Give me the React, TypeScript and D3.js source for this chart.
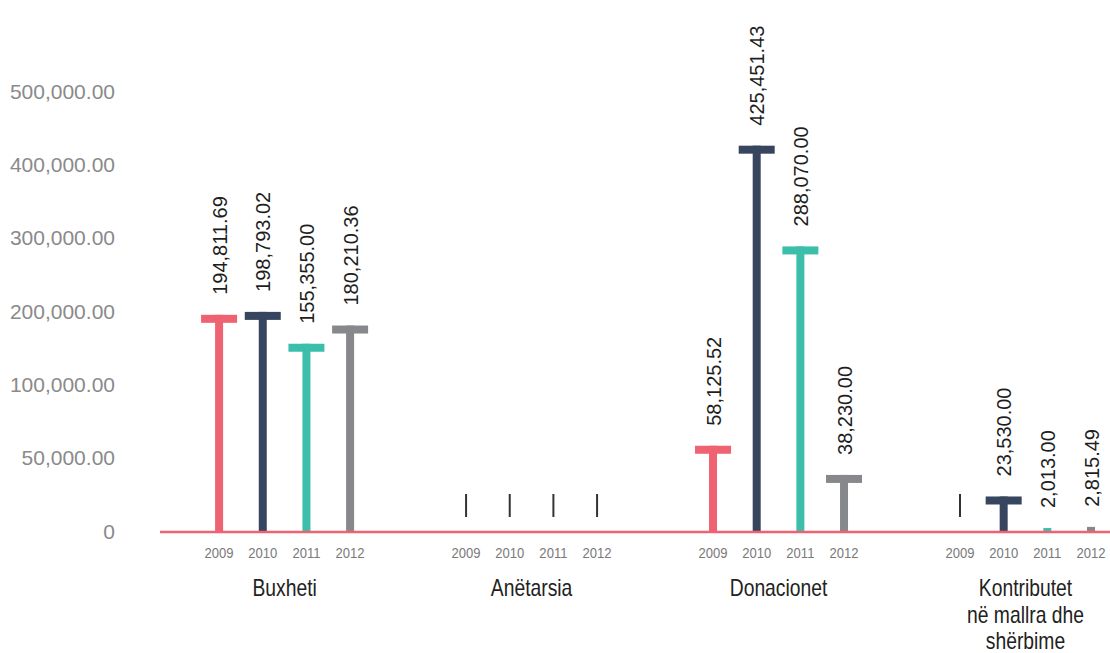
import React from "react";
import * as d3 from "d3";

// Revenue sources by year
const categories = ["Buxheti", "Anëtarsia", "Donacionet", "Kontributet\nnë mallra dhe\nshërbime"];
const years = ["2009", "2010", "2011", "2012"];
const values2009: (number | null)[] = [194811.69, null, 58125.52, null];
const values2010: (number | null)[] = [198793.02, null, 425451.43, 23530.0];
const values2011: (number | null)[] = [155355.0, null, 288070.0, 2013.0];
const values2012: (number | null)[] = [180210.36, null, 38230.0, 2815.49];
const seriesValues = [values2009, values2010, values2011, values2012];
const yTicks = [0, 50000, 100000, 200000, 300000, 400000, 500000];

const colors = ["#ef6271", "#37455f", "#3cbfaa", "#87888c"];

const W = 1110;
const H = 653;
const FONT = "'Liberation Sans', Arial, Helvetica, sans-serif";

export default function App() {
  // Broken (piecewise) value axis: ticks are evenly spaced
  const y0 = 531;
  const step = 73.33;
  const y = d3
    .scaleLinear()
    .domain(yTicks)
    .range(yTicks.map((_, i) => y0 - i * step));

  const xGroup = d3.scalePoint<string>().domain(categories).range([284.6, 1025.5]);
  const xYear = d3.scalePoint<string>().domain(years).range([-65.5, 65.5]);

  const fmtValue = d3.format(",.2f");
  const fmtTick = (v: number) => (v === 0 ? "0" : d3.format(",.2f")(v));

  const stemW = 8;
  const capW = 36;
  const capH = 8;

  const marks: React.ReactNode[] = [];
  const labels: React.ReactNode[] = [];

  categories.forEach((cat, ci) => {
    years.forEach((yr, yi) => {
      const v = seriesValues[yi][ci];
      const cx = (xGroup(cat) ?? 0) + (xYear(yr) ?? 0);
      const key = `${ci}-${yi}`;
      if (v === null) {
        // no data marker
        marks.push(
          <line key={key} x1={cx} x2={cx} y1={y(0) - 37} y2={y(0) - 14} stroke="#333" strokeWidth={2} />
        );
        return;
      }
      const top = y(v);
      const h = y(0) - top;
      marks.push(
        <g key={key} fill={colors[yi]}>
          <rect x={cx - stemW / 2} y={top} width={stemW} height={h} />
          {h > capH * 2 && <rect x={cx - capW / 2} y={top} width={capW} height={capH} />}
        </g>
      );
      labels.push(
        <text
          key={key}
          transform={`translate(${cx + 7.5},${top - 20}) rotate(-90)`}
          fontSize={20}
          fill="#1e1e1e"
          textAnchor="start"
        >
          {fmtValue(v)}
        </text>
      );
    });
  });

  return (
    <svg
      width={W}
      height={H}
      style={{ position: "absolute", left: 0, top: 0, background: "#fff" }}
      fontFamily={FONT}
    >
      {/* value axis labels */}
      <g>
        {yTicks.map((t) => (
          <text key={t} x={115} y={y(t)} dy="0.36em" textAnchor="end" fontSize={21} fill="#8a8a8a">
            {fmtTick(t)}
          </text>
        ))}
      </g>

      <g>{marks}</g>

      {/* baseline */}
      <line x1={160} x2={W} y1={y(0) + 1} y2={y(0) + 1} stroke="#ef6271" strokeWidth={2.5} />

      <g>{labels}</g>

      {/* year labels */}
      <g>
        {categories.map((cat, ci) =>
          years.map((yr) => (
            <text
              key={`${ci}-${yr}`}
              transform={`translate(${(xGroup(cat) ?? 0) + (xYear(yr) ?? 0)},558) scale(0.87,1)`}
              textAnchor="middle"
              fontSize={15}
              fill="#7a7a7a"
            >
              {yr}
            </text>
          ))
        )}
      </g>

      {/* category labels */}
      <g>
        {categories.map((cat) =>
          cat.split("\n").map((line, li) => (
            <text
              key={`${cat}-${li}`}
              transform={`translate(${xGroup(cat) ?? 0},${596 + li * 26.5}) scale(0.84,1)`}
              textAnchor="middle"
              fontSize={23}
              fill="#222"
            >
              {line}
            </text>
          ))
        )}
      </g>
    </svg>
  );
}
